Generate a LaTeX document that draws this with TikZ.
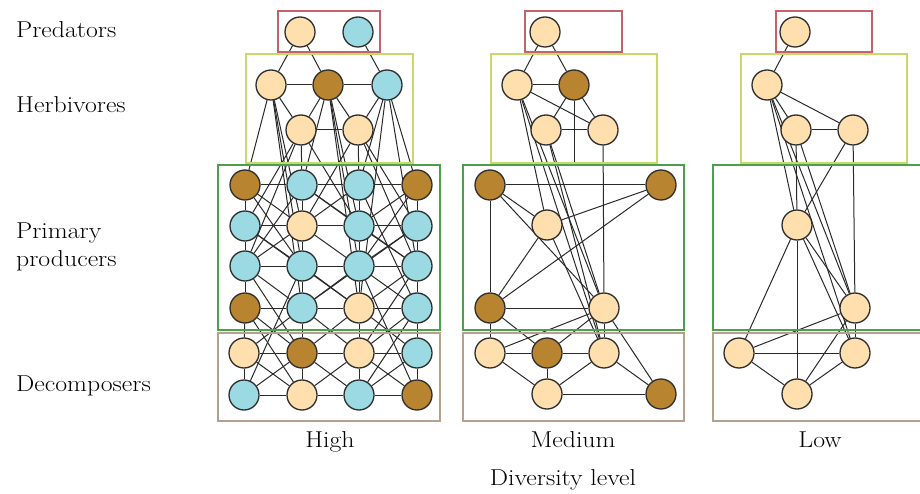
\documentclass[tikz,border=0pt]{standalone}
\usepackage{graphicx}
\usetikzlibrary{backgrounds}
\definecolor{tanfill}{HTML}{FEDFAD}
\definecolor{bluefill}{HTML}{9BDAE2}
\definecolor{brownfill}{HTML}{B8842F}
\definecolor{nodeline}{HTML}{2E2E2E}
\definecolor{linkcol}{HTML}{2A2A2A}
\definecolor{predcol}{HTML}{C1646A}
\definecolor{herbcol}{HTML}{C6DA6C}
\definecolor{prodcol}{HTML}{4C9F4C}
\definecolor{decocol}{HTML}{B4A28E}
\pgfdeclarelayer{links}
\pgfdeclarelayer{frames}
\pgfsetlayers{links,frames,main}
\newcommand{\widetext}[1]{\scalebox{1.12}[1]{#1}}
\tikzset{
  sp/.style={circle, draw=nodeline, line width=1.3pt, minimum size=30pt, inner sep=0pt},
  sptan/.style={sp, fill=tanfill},
  spblue/.style={sp, fill=bluefill},
  spbrown/.style={sp, fill=brownfill},
  lnk/.style={draw=linkcol, line width=1pt},
  frame/.style={line width=2pt},
  lbl/.style={font=\fontsize{23}{27}\selectfont, inner sep=0pt},
}
\begin{document}
\begin{tikzpicture}[x=1pt,y=-1pt]
\useasboundingbox (0,0) rectangle (920,494);

% ---------- row labels ----------
\node[lbl, anchor=base west] (tPred) at (16,38) {\widetext{Predators}};
\node[lbl, anchor=base west] (tHerb) at (16,113) {\widetext{Herbivores}};
\node[lbl, anchor=base west] (tPrim) at (16,239) {\widetext{Primary}};
\node[lbl, anchor=base west] (tProd) at (16,266) {\widetext{producers}};
\node[lbl, anchor=base west] (tDeco) at (16,391) {\widetext{Decomposers}};
\node[lbl, anchor=base] (tHigh) at (330,447) {\widetext{High}};
\node[lbl, anchor=base] (tMed) at (573,447) {\widetext{Medium}};
\node[lbl, anchor=base] (tLow) at (820,447) {\widetext{Low}};
\node[lbl, anchor=base] (tDiv) at (563,485) {\widetext{Diversity level}};

% ---------- high diversity ----------
\node[sptan]   (hp1) at (300,32) {};
\node[spblue]  (hp2) at (358,32) {};
\node[sptan]   (ha) at (271,85) {};
\node[spbrown] (hb) at (328,85) {};
\node[spblue]  (hc) at (387,85) {};
\node[sptan]   (hd) at (301,130) {};
\node[sptan]   (he) at (358,130) {};
% producers, row by row
\foreach \c/\x/\s in {1/245/spbrown,2/302/spblue,3/359/spblue,4/417/spbrown}
  \node[\s] (hr1\c) at (\x,185) {};
\foreach \c/\x/\s in {1/245/spblue,2/302/sptan,3/359/spblue,4/417/spblue}
  \node[\s] (hr2\c) at (\x,226) {};
\foreach \c/\x/\s in {1/245/spblue,2/302/spblue,3/359/spblue,4/417/spblue}
  \node[\s] (hr3\c) at (\x,266) {};
\foreach \c/\x/\s in {1/245/spbrown,2/302/spblue,3/359/sptan,4/417/spblue}
  \node[\s] (hr4\c) at (\x,308) {};
% decomposers
\foreach \c/\x/\s in {1/244/sptan,2/302/spbrown,3/359/sptan,4/417/spblue}
  \node[\s] (hd1\c) at (\x,353) {};
\foreach \c/\x/\s in {1/244/spblue,2/302/sptan,3/359/spblue,4/417/spbrown}
  \node[\s] (hd2\c) at (\x,395) {};

% ---------- medium diversity ----------
\node[sptan]   (mp) at (545,32) {};
\node[sptan]   (mh1) at (517,85) {};
\node[spbrown] (mh2) at (574,85) {};
\node[sptan]   (mh3) at (546,130) {};
\node[sptan]   (mh4) at (603,130) {};
\node[spbrown] (mr1) at (490,185) {};
\node[spbrown] (mr2) at (661,185) {};
\node[sptan]   (mr3) at (547,225) {};
\node[spbrown] (mr4) at (490,308) {};
\node[sptan]   (mr5) at (604,308) {};
\node[sptan]   (md1) at (490,353) {};
\node[spbrown] (md2) at (547,353) {};
\node[sptan]   (md3) at (604,353) {};
\node[sptan]   (md4) at (547,394) {};
\node[spbrown] (md5) at (661,394) {};
\coordinate (mh2end) at (574,163);

% ---------- low diversity ----------
\node[sptan] (lp) at (795,32) {};
\node[sptan] (lh1) at (767,85) {};
\node[sptan] (lh2) at (796,130) {};
\node[sptan] (lh3) at (853,130) {};
\node[sptan] (lr1) at (797,225) {};
\node[sptan] (lr2) at (855,308) {};
\node[sptan] (ld1) at (739,353) {};
\node[sptan] (ld2) at (855,353) {};
\node[sptan] (ld3) at (797,394) {};

% ---------- links ----------
\begin{pgfonlayer}{links}
% high: upper levels
\foreach \a/\b in {hp1/ha,hp1/hb,hp2/hc,ha/hb,hb/hc,ha/hd,hb/hd,hb/he,hc/he,hd/he,
  ha/hr11,ha/hr22,ha/hr32,ha/hr42,hb/hr12,hb/hr23,hb/hr33,hb/hr43,
  hd/hr12,hd/hr21,hd/hr23,hd/hr31,he/hr13,he/hr22,he/hr24,he/hr34,
  hc/hr14,hc/hr13,hc/hr34,hc/hr43}
  \draw[lnk] (\a) -- (\b);
% high: producer grid
\foreach \r in {1,2,3,4}
  \foreach \a/\b in {1/2,2/3,3/4}
    \draw[lnk] (hr\r\a) -- (hr\r\b);
\foreach \c in {1,2,3,4}
  \foreach \a/\b in {1/2,2/3,3/4}
    \draw[lnk] (hr\a\c) -- (hr\b\c);
\foreach \a/\b in {hr11/hr22,hr12/hr23,hr13/hr22,hr14/hr23,hr21/hr32,hr22/hr31,
  hr23/hr34,hr24/hr33,hr31/hr42,hr32/hr43,hr33/hr42,hr34/hr43,
  hr11/hr32,hr14/hr33,hr21/hr43,hr24/hr42,hr12/hr34,hr22/hr44,hr12/hr31,hr13/hr44}
  \draw[lnk] (\a) -- (\b);
% high: producers to decomposers
\foreach \a/\b in {hr41/hd11,hr42/hd12,hr43/hd13,hr44/hd14,hr41/hd12,hr42/hd11,
  hr42/hd13,hr43/hd12,hr43/hd14,hr44/hd13,hr31/hd12,hr34/hd13,hr32/hd21,
  hr33/hd24,hr41/hd22,hr44/hd23}
  \draw[lnk] (\a) -- (\b);
% high: decomposers
\foreach \a/\b in {hd11/hd12,hd12/hd13,hd13/hd14,hd21/hd22,hd22/hd23,hd23/hd24,
  hd11/hd21,hd12/hd22,hd13/hd23,hd14/hd24,hd11/hd22,hd12/hd21,hd12/hd23,
  hd13/hd22,hd13/hd24,hd14/hd23}
  \draw[lnk] (\a) -- (\b);
% medium
\foreach \a/\b in {mp/mh1,mp/mh2,mh1/mh2,mh1/mh4,mh2/mh3,mh2/mh4,mh3/mh4,mh2/mh2end,
  mh4/mr5,mh1/mr3,mh1/mr5,mh1/md3,mh3/mr5,mh3/md3,
  mr1/mr2,mr1/mr3,mr1/mr4,mr1/mr5,mr2/mr3,mr2/mr4,mr3/mr4,mr3/md3,mr4/mr5,
  mr4/md1,mr4/md2,mr5/md1,mr5/md2,mr5/md3,mr5/md5,
  md1/md2,md2/md3,md1/md4,md2/md4,md3/md4,md4/md5,md3/md5}
  \draw[lnk] (\a) -- (\b);
% low
\foreach \a/\b in {lp/lh1,lh1/lh2,lh1/lh3,lh2/lh3,lh1/lr1,lh1/lr2,lh1/ld2,
  lh2/lr1,lh2/lr2,lh3/lr1,lh3/lr2,lr1/lr2,lr1/ld1,lr1/ld3,lr1/ld2,
  lr2/ld1,lr2/ld2,lr2/ld3,ld1/ld2,ld1/ld3,ld2/ld3}
  \draw[lnk] (\a) -- (\b);
\end{pgfonlayer}

% ---------- trophic level frames ----------
\begin{pgfonlayer}{frames}
\draw[frame, predcol] (278,11) rectangle (380,52);
\draw[frame, herbcol] (246,54) rectangle (413,163);
\draw[frame, prodcol] (218,165) rectangle (440,330);
\draw[frame, decocol] (218,333) rectangle (440,421);

\draw[frame, predcol] (525,11) rectangle (622,52);
\draw[frame, herbcol] (491,54) rectangle (657,163);
\draw[frame, prodcol] (463,165) rectangle (684,330);
\draw[frame, decocol] (463,333) rectangle (684,421);

\draw[frame, predcol] (776,11) rectangle (872,52);
\draw[frame, herbcol] (741,54) rectangle (907,163);
\draw[frame, prodcol] (713,165) rectangle (922,330);
\draw[frame, decocol] (713,333) rectangle (922,421);
\end{pgfonlayer}
\end{tikzpicture}
\end{document}
